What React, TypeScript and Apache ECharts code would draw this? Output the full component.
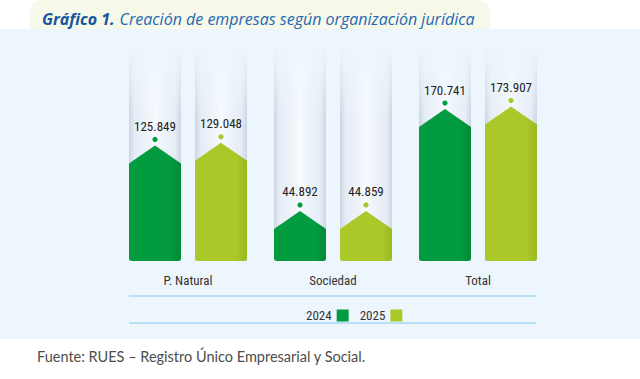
import React, { useEffect, useRef } from "react";
import * as echarts from "echarts";

const categories = ["P. Natural", "Sociedad", "Total"];
const seriesNames = ["2024", "2025"];
const values2024 = [125849, 44892, 170741];
const values2025 = [129048, 44859, 173907];
const titleBold = "Gráfico 1.";
const titleRest = "Creación de empresas según organización jurídica";
const sourceText = "Fuente: RUES – Registro Único Empresarial y Social.";

const Y_MIN = -17000;
const Y_MAX = 250000;
const GREEN = "#039b3f";
const LIME = "#abc829";
const GREEN_DARK = "#018a35";
const LIME_DARK = "#9bb722";
const PANEL = "#eef6fd";
const NUM_FONT = "'Liberation Sans Narrow', 'Roboto Condensed', 'DejaVu Sans Condensed', sans-serif";

const fmt = (v: number) => String(v).replace(/\B(?=(\d{3})+(?!\d))/g, ".");

function makeRender(sign: number, color: string, dark: string) {
  return (params: any, api: any) => {
    const xi = api.value(0);
    const v = api.value(1);
    const top = api.coord([xi, v]);
    const base = api.coord([xi, Y_MIN])[1];
    const band = api.size([1, 0])[0];
    const cx = top[0] + sign * band * 0.2276;
    const hw = band * 0.1793;
    const l = cx - hw;
    const r = cx + hw;
    const py = top[1];
    const sy = py + 18;
    const gridTop = params.coordSys.y;
    const rr = 3;
    const d =
      `M ${l} ${sy} L ${cx} ${py} L ${r} ${sy} L ${r} ${base - rr} ` +
      `Q ${r} ${base} ${r - rr} ${base} L ${l + rr} ${base} Q ${l} ${base} ${l} ${base - rr} Z`;
    return {
      type: "group",
      children: [
        {
          type: "rect",
          shape: { x: l, y: gridTop, width: r - l, height: base - gridTop },
          style: {
            fill: new echarts.graphic.LinearGradient(0, 0, 1, 0, [
              { offset: 0, color: "rgba(160,172,192,0.45)" },
              { offset: 0.12, color: "rgba(215,222,233,0.35)" },
              { offset: 0.5, color: "rgba(255,255,255,0.55)" },
              { offset: 0.88, color: "rgba(215,222,233,0.35)" },
              { offset: 1, color: "rgba(160,172,192,0.45)" },
            ]),
          },
        },
        {
          type: "rect",
          shape: { x: l - 1, y: gridTop - 1, width: r - l + 2, height: 75 },
          style: {
            fill: new echarts.graphic.LinearGradient(0, 0, 0, 1, [
              { offset: 0, color: "rgba(238,246,253,1)" },
              { offset: 1, color: "rgba(238,246,253,0)" },
            ]),
          },
        },
        {
          type: "path",
          shape: { pathData: d },
          style: {
            fill: new echarts.graphic.LinearGradient(0, 0, 1, 0, [
              { offset: 0, color: color },
              { offset: 0.8, color: color },
              { offset: 1, color: dark },
            ]),
          },
        },
        {
          type: "circle",
          shape: { cx: cx, cy: py - 6, r: 2.6 },
          style: { fill: color },
        },
        {
          type: "text",
          style: {
            text: fmt(v),
            x: cx,
            y: py - 19,
            align: "center",
            verticalAlign: "middle",
            fontSize: 13,
            fontFamily: NUM_FONT,
            fill: "#222222",
          },
        },
      ],
    };
  };
}

export default function App() {
  const ref = useRef<HTMLDivElement>(null);
  useEffect(() => {
    if (!ref.current) return;
    const chart = echarts.init(ref.current, undefined, { renderer: "svg" });
    chart.setOption({
      animation: false,
      backgroundColor: "#ffffff",
      title: {
        left: 37,
        top: 5,
        text: `{b|${titleBold}} {n|${titleRest}}`,
        textStyle: {
          fontWeight: "normal",
          rich: {
            b: {
              fontSize: 16,
              fontWeight: "bold",
              fontStyle: "italic",
              color: "#17559e",
              fontFamily: "'Open Sans', sans-serif",
            },
            n: {
              fontSize: 16,
              fontWeight: "normal",
              fontStyle: "italic",
              color: "#1f68b3",
              fontFamily: "'Open Sans', sans-serif",
            },
          },
        },
      },
      graphic: [
        {
          type: "rect",
          z: -10,
          shape: { x: 30, y: 0, width: 460, height: 40, r: [12, 12, 0, 0] },
          style: { fill: "#f6f8ea" },
        },
        {
          type: "rect",
          z: -9,
          shape: { x: 0, y: 29, width: 640, height: 310 },
          style: { fill: PANEL },
        },
        {
          type: "line",
          z: -8,
          shape: { x1: 129, y1: 296, x2: 536, y2: 296 },
          style: { stroke: "#a3d8ef", lineWidth: 1.5 },
        },
        {
          type: "line",
          z: -8,
          shape: { x1: 129, y1: 323, x2: 536, y2: 323 },
          style: { stroke: "#a3d8ef", lineWidth: 1.5 },
        },
        {
          type: "text",
          left: 37,
          top: 349,
          style: {
            text: sourceText,
            fontSize: 14.5,
            fontFamily: "Lato, 'Open Sans', sans-serif",
            fill: "#4d4d4d",
          },
        },
      ],
      legend: {
        left: 301,
        top: 304,
        align: "right",
        icon: "rect",
        itemWidth: 12,
        itemHeight: 12,
        itemGap: 11,
        textStyle: { fontSize: 13, fontFamily: NUM_FONT, color: "#333333" },
        data: [
          { name: seriesNames[0], itemStyle: { color: GREEN } },
          { name: seriesNames[1], itemStyle: { color: LIME } },
        ],
      },
      grid: { left: 115.5, right: 89.5, top: 45, bottom: 118 },
      xAxis: {
        type: "category",
        data: categories,
        axisLine: { show: false },
        axisTick: { show: false },
        axisLabel: { margin: 13, fontSize: 13, fontFamily: NUM_FONT, color: "#333333" },
      },
      yAxis: {
        type: "value",
        min: Y_MIN,
        max: Y_MAX,
        show: false,
        splitLine: { show: false },
      },
      series: [
        {
          name: seriesNames[0],
          type: "custom",
          itemStyle: { color: GREEN },
          encode: { x: 0, y: 1 },
          data: values2024.map((v, i) => [i, v]),
          renderItem: makeRender(-1, GREEN, GREEN_DARK),
        },
        {
          name: seriesNames[1],
          type: "custom",
          itemStyle: { color: LIME },
          encode: { x: 0, y: 1 },
          data: values2025.map((v, i) => [i, v]),
          renderItem: makeRender(1, LIME, LIME_DARK),
        },
      ],
    });
    return () => chart.dispose();
  }, []);
  return (
    <div
      ref={ref}
      style={{ position: "absolute", left: 0, top: 0, width: 640, height: 379 }}
    />
  );
}
